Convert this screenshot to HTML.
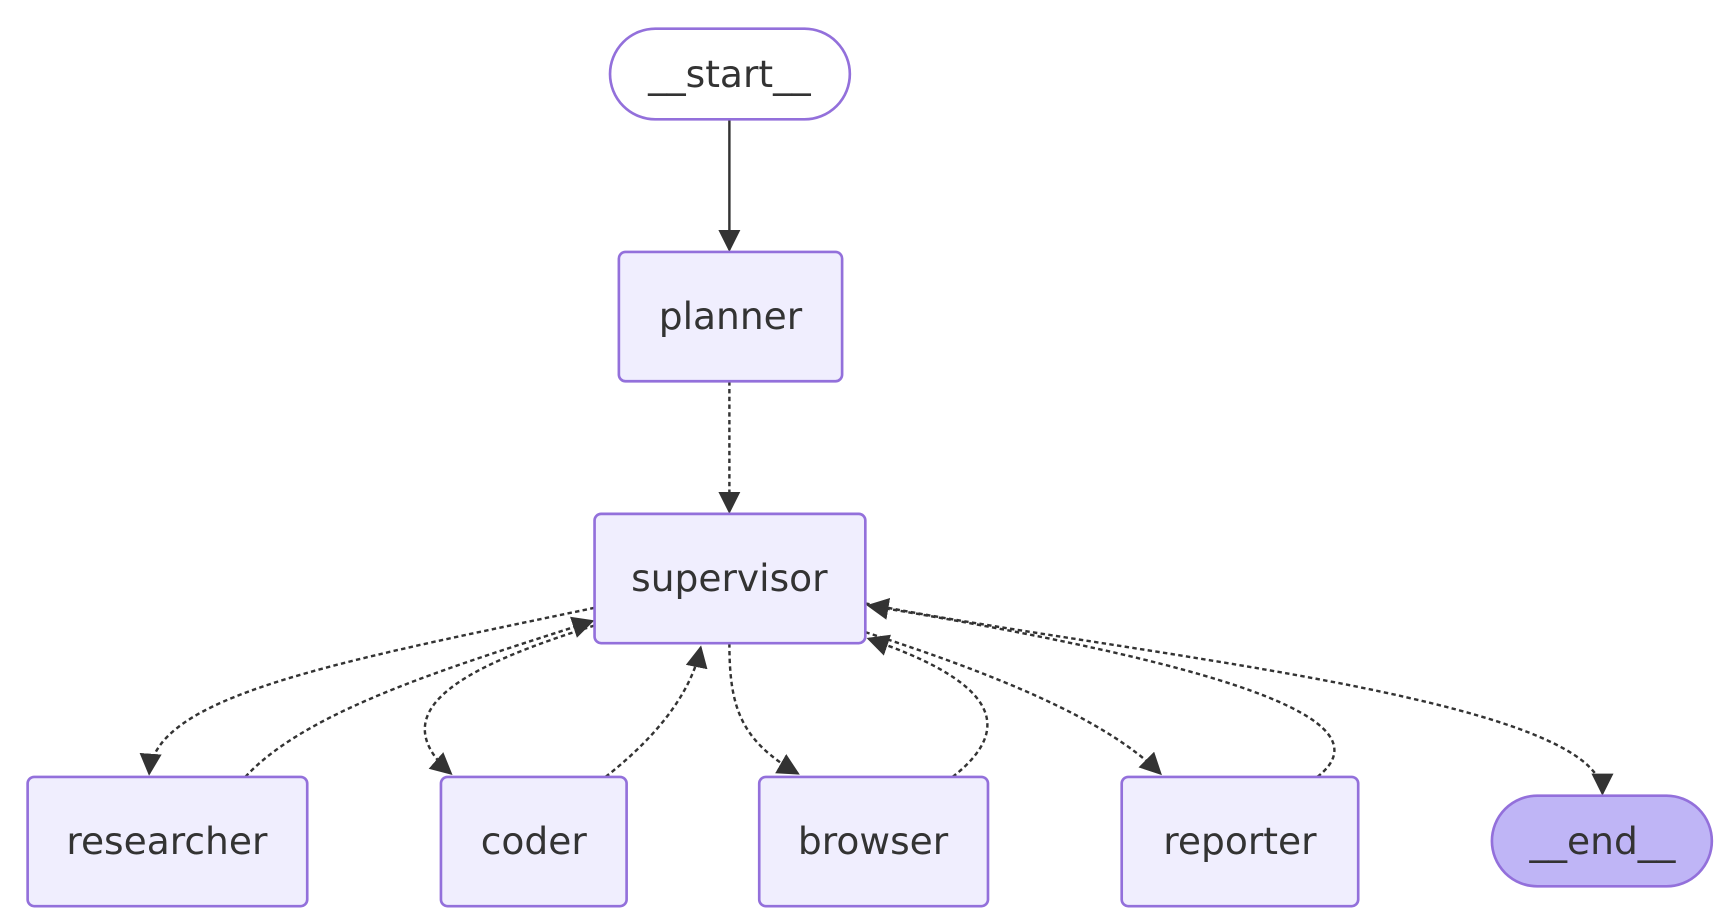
<!DOCTYPE html>
<html><head><meta charset="utf-8"><style>
html,body{margin:0;padding:0;background:#fff;}
svg{display:block}
text{font-family:"DejaVu Sans","Liberation Sans",sans-serif;font-size:34px;fill:#333;text-anchor:middle;dominant-baseline:central}
</style></head><body>
<svg width="1724" height="920" viewBox="0 0 1560 832.5" preserveAspectRatio="none" xmlns="http://www.w3.org/2000/svg">
<defs>
<marker id="b" viewBox="0 0 10 10" refX="9" refY="5" markerWidth="20" markerHeight="20" orient="auto" markerUnits="userSpaceOnUse">
<path d="M0,0 L10,5 L0,10 z" fill="#333"/></marker>
</defs>
<g fill="none" stroke="#333" stroke-width="2.2">
<path d="M660,108 L660,226" marker-end="url(#b)"/>
<g stroke-dasharray="4,3">
<path d="M660,345 L660,463" marker-end="url(#b)"/>
<path d="M538,550 C300,600 140,630 135,700" marker-end="url(#b)"/>
<path d="M222,703 C280,640 420,600 536,562" marker-end="url(#b)"/>
<path d="M538,566 C430,600 340,640 408,700" marker-end="url(#b)"/>
<path d="M548,703 C590,670 625,630 634,586" marker-end="url(#b)"/>
<path d="M660,582 C660,640 670,670 722,700" marker-end="url(#b)"/>
<path d="M862,703 C930,650 880,610 786,578" marker-end="url(#b)"/>
<path d="M783,572 C900,610 1000,650 1050,700" marker-end="url(#b)"/>
<path d="M1192,703 C1260,650 1100,600 786,548" marker-end="url(#b)"/>
<path d="M783,546 C1000,590 1450,630 1450,718" marker-end="url(#b)"/>
</g></g>
<g stroke="#9370db" stroke-width="2.4" fill="#ececff">
<rect x="552" y="26" width="217" height="82" rx="41" fill="#fff"/>
<rect x="560" y="228" width="202" height="117" rx="6" fill="#f0eefe"/>
<rect x="538" y="465" width="245" height="117" rx="6" fill="#f0eefe"/>
<rect x="25" y="703" width="253" height="117" rx="6" fill="#f0eefe"/>
<rect x="399" y="703" width="168" height="117" rx="6" fill="#f0eefe"/>
<rect x="687" y="703" width="207" height="117" rx="6" fill="#f0eefe"/>
<rect x="1015" y="703" width="214" height="117" rx="6" fill="#f0eefe"/>
<rect x="1350" y="720" width="199" height="82" rx="41" fill="#bfb5f6"/>
</g>
<text x="660" y="67">__start__</text>
<text x="661" y="286">planner</text>
<text x="660" y="523">supervisor</text>
<text x="151" y="761">researcher</text>
<text x="483" y="761">coder</text>
<text x="790" y="761">browser</text>
<text x="1122" y="761">reporter</text>
<text x="1450" y="761">__end__</text>
</svg>
</body></html>
